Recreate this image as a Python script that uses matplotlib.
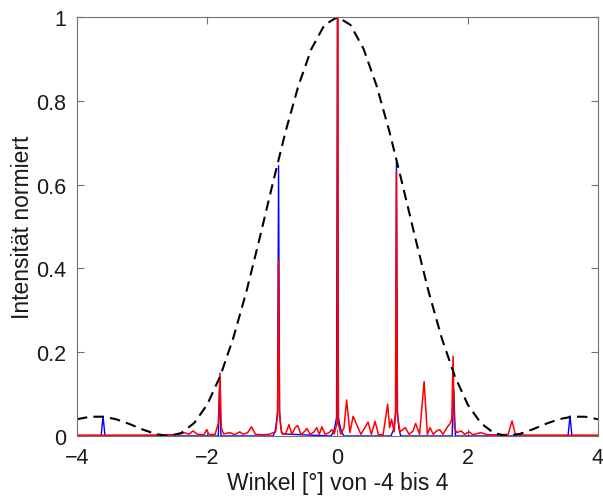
import matplotlib
matplotlib.use('Agg')
import matplotlib.pyplot as plt

env_x = [-4.0, -3.8, -3.6, -3.4, -3.2, -3.0, -2.8, -2.6, -2.4, -2.2, -2.0,
         -1.8, -1.6, -1.4, -1.2, -1.0, -0.8, -0.6, -0.4, -0.2, 0.0,
         0.2, 0.4, 0.6, 0.8, 1.0, 1.2, 1.4, 1.6, 1.8, 2.0,
         2.2, 2.4, 2.6, 2.8, 3.0, 3.2, 3.4, 3.6, 3.8, 4.0]
env_y = [0.040, 0.046, 0.046, 0.040, 0.029, 0.016, 0.005, 0.0, 0.007, 0.031, 0.075,
         0.143, 0.234, 0.344, 0.469, 0.599, 0.725, 0.836, 0.924, 0.981, 1.0,
         0.981, 0.924, 0.836, 0.725, 0.599, 0.469, 0.344, 0.234, 0.143, 0.075,
         0.031, 0.007, 0.0, 0.005, 0.016, 0.029, 0.040, 0.046, 0.046, 0.040]

# Gitter (berechnet) - blau
blue_x = [-4.0, -3.63, -3.6, -3.57, -1.83, -1.81, -1.79,
          -0.99, -0.96, -0.94, -0.92, -0.905, -0.89, -0.87, -0.85,
          -0.1, -0.06, -0.03, -0.015, 0.0, 0.015, 0.03, 0.06, 0.1,
          0.82, 0.86, 0.88, 0.895, 0.905, 0.92, 0.94, 0.97,
          1.76, 1.785, 1.81, 3.54, 3.57, 3.6, 4.0]
blue_y = [0.0, 0.0, 0.047, 0.0, 0.0, 0.117, 0.0,
          0.0, 0.01, 0.03, 0.06, 0.645, 0.06, 0.02, 0.005,
          0.0, 0.01, 0.03, 0.045, 1.0, 0.045, 0.03, 0.01, 0.0,
          0.0, 0.015, 0.04, 0.06, 0.655, 0.06, 0.02, 0.0,
          0.0, 0.11, 0.0, 0.0, 0.048, 0.0, 0.0]

# Messung - rot
red_x = [-4.0, -3.0, -2.6, -2.45, -2.35, -2.28, -2.22, -2.15, -2.05, -2.01, -1.97,
         -1.88, -1.83, -1.805, -1.785, -1.75, -1.65, -1.58, -1.5, -1.45, -1.38,
         -1.32, -1.26, -1.15, -1.05, -0.95, -0.92, -0.905, -0.89, -0.86, -0.8,
         -0.745, -0.7, -0.65, -0.61, -0.56, -0.5, -0.47, -0.42, -0.36, -0.32,
         -0.28, -0.24, -0.19, -0.13, -0.09, -0.05, -0.008, 0.002, 0.012, 0.05,
         0.1, 0.14, 0.19, 0.24, 0.3, 0.36, 0.42, 0.47, 0.52, 0.576,
         0.63, 0.7, 0.77, 0.8, 0.83, 0.87, 0.89, 0.905, 0.92, 0.96,
         1.04, 1.1, 1.16, 1.2, 1.26, 1.33, 1.38, 1.42, 1.47, 1.52,
         1.57, 1.62, 1.68, 1.73, 1.755, 1.775, 1.795, 1.83, 1.9, 1.95,
         2.02, 2.08, 2.2, 2.3, 2.5, 2.62, 2.68, 2.73, 2.9, 4.0]
red_y = [0.002, 0.002, 0.003, 0.003, 0.008, 0.004, 0.012, 0.004, 0.003, 0.015, 0.003,
         0.004, 0.03, 0.15, 0.02, 0.005, 0.008, 0.003, 0.01, 0.004, 0.008,
         0.022, 0.004, 0.003, 0.004, 0.01, 0.05, 0.42, 0.05, 0.008, 0.004,
         0.027, 0.004, 0.02, 0.025, 0.003, 0.012, 0.018, 0.004, 0.01, 0.02,
         0.004, 0.022, 0.004, 0.008, 0.015, 0.005, 0.03, 1.0, 0.03, 0.004,
         0.02, 0.086, 0.008, 0.047, 0.025, 0.004, 0.02, 0.033, 0.004, 0.035,
         0.003, 0.003, 0.076, 0.02, 0.04, 0.01, 0.05, 0.63, 0.05, 0.01,
         0.02, 0.004, 0.012, 0.03, 0.004, 0.13, 0.004, 0.02, 0.004, 0.012,
         0.015, 0.004, 0.02, 0.03, 0.04, 0.19, 0.02, 0.008, 0.012, 0.004,
         0.01, 0.003, 0.008, 0.003, 0.003, 0.004, 0.036, 0.004, 0.002, 0.002]

x_ticks = [-4, -2, 0, 2, 4]
y_ticks = [0, 0.2, 0.4, 0.6, 0.8, 1]
y_tick_labels = ['0', '0.2', '0.4', '0.6', '0.8', '1']

plt.rcParams['font.family'] = ['Liberation Sans', 'DejaVu Sans']

fig = plt.figure(figsize=(6.03, 5.02), dpi=100)
ax = fig.add_axes([0.1277, 0.1295, 0.864, 0.8347])

ax.plot(blue_x, blue_y, color='#0000ff', lw=1.0)
ax.plot(red_x, red_y, color='#ff0000', lw=1.1)
ax.plot(env_x, env_y, color='black', lw=1.5, ls=(0, (5, 3)))

ax.set_xlim(-4, 4)
ax.set_ylim(0, 1)
ax.set_xticks(x_ticks)
ax.set_yticks(y_ticks)
ax.set_yticklabels(y_tick_labels)
ax.tick_params(direction='in', length=5, width=0.8, top=True, right=True,
               labelsize=15.5, colors='0.45', labelcolor='0.1', pad=8)
for s in ax.spines.values():
    s.set_color('0.45')
    s.set_linewidth(0.8)

ax.set_xlabel('Winkel [°] von -4 bis 4', fontsize=16.5, color='0.1', labelpad=2)
ax.set_ylabel('Intensität normiert', fontsize=16.5, color='0.1', labelpad=1)

fig.savefig('out.png', dpi=100)
